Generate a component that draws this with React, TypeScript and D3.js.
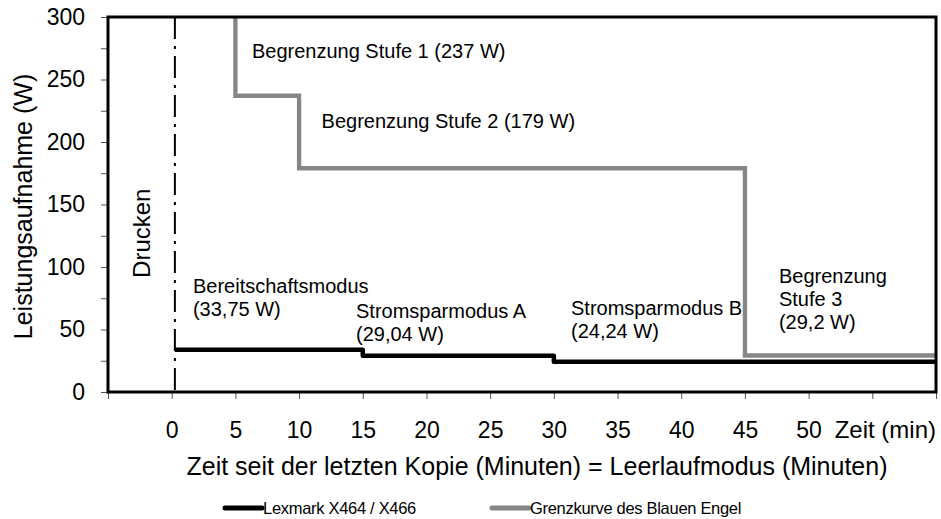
import React, { useEffect, useRef } from 'react';
import * as d3 from 'd3';

// Lexmark X464 / X466 measured consumption (minutes after last copy, watts)
const lexmarkTimes = [0.25, 15, 30, 60];
const lexmarkWatts = [33.75, 29.04, 24.24, 24.24];

// Blauer Engel limit curve
const limitTimes = [5, 10, 45, 60];
const limitWatts = [300, 237, 179, 29.2];

// end of the "Drucken" phase
const printingEnd = 0.25;

const xTicks = [-5, 0, 5, 10, 15, 20, 25, 30, 35, 40, 45, 50, 55, 60];
const xLabelled = [0, 5, 10, 15, 20, 25, 30, 35, 40, 45, 50];
const yTicks = [0, 25, 50, 75, 100, 125, 150, 175, 200, 225, 250, 275, 300];
const yLabelled = [0, 50, 100, 150, 200, 250, 300];

const seriesNames = ['Lexmark X464 / X466', 'Grenzkurve des Blauen Engel'];

const annotationTexts = [
    ['Begrenzung Stufe 1 (237 W)'],
    ['Begrenzung Stufe 2 (179 W)'],
    ['Bereitschaftsmodus', '(33,75 W)'],
    ['Stromsparmodus A', '(29,04 W)'],
    ['Stromsparmodus B', '(24,24 W)'],
    ['Begrenzung', 'Stufe 3', '(29,2 W)'],
];

const FONT = '"Liberation Sans", Arial, sans-serif';

export default function App() {
    const canvas = useRef<SVGSVGElement>(null);

    useEffect(() => {
        const width = 941;
        const height = 519;
        const margin = { top: 17, right: 5, bottom: 127, left: 108 };

        const svg = d3.select(canvas.current);
        svg.selectAll('*').remove();

        const xScale = d3.scaleLinear()
            .domain([-5, 60])
            .range([margin.left, width - margin.right]);

        const yScale = d3.scaleLinear()
            .domain([0, 300])
            .range([height - margin.bottom, margin.top]);

        // Y axis
        const yAxis = svg.append('g')
            .attr('transform', `translate(${margin.left},0)`)
            .call(d3.axisLeft(yScale)
                .tickValues(yTicks)
                .tickSize(7)
                .tickPadding(16)
                .tickFormat((d: any) => yLabelled.includes(d) ? String(d) : ''));
        yAxis.select('.domain').remove();
        yAxis.selectAll('line').attr('stroke', '#555');
        yAxis.selectAll('text')
            .attr('font-family', FONT)
            .attr('font-size', 23)
            .attr('fill', '#000');

        // X axis
        const xAxis = svg.append('g')
            .attr('transform', `translate(0,${height - margin.bottom})`)
            .call(d3.axisBottom(xScale)
                .tickValues(xTicks)
                .tickSize(7)
                .tickPadding(23)
                .tickFormat((d: any) => xLabelled.includes(d) ? String(d) : ''));
        xAxis.select('.domain').remove();
        xAxis.selectAll('line').attr('stroke', '#555');
        xAxis.selectAll('text')
            .attr('font-family', FONT)
            .attr('font-size', 23)
            .attr('fill', '#000');

        svg.append('text')
            .attr('x', xScale(60))
            .attr('y', height - margin.bottom + 46)
            .attr('text-anchor', 'end')
            .attr('font-family', FONT)
            .attr('font-size', 24)
            .text('Zeit (min)');

        // Axis titles
        svg.append('text')
            .attr('x', 537)
            .attr('y', 475)
            .attr('text-anchor', 'middle')
            .attr('font-family', FONT)
            .attr('font-size', 25)
            .text('Zeit seit der letzten Kopie (Minuten) = Leerlaufmodus (Minuten)');

        svg.append('text')
            .attr('transform', `translate(32,${(yScale(0) + yScale(300)) / 2 + 2}) rotate(-90)`)
            .attr('text-anchor', 'middle')
            .attr('font-family', FONT)
            .attr('font-size', 25)
            .text('Leistungsaufnahme (W)');

        // Printing phase marker
        svg.append('line')
            .attr('x1', xScale(printingEnd))
            .attr('x2', xScale(printingEnd))
            .attr('y1', yScale(300))
            .attr('y2', yScale(0))
            .attr('stroke', '#000')
            .attr('stroke-width', 2)
            .attr('stroke-dasharray', '22,7,3,7');

        svg.append('text')
            .attr('transform', `translate(150,${yScale(127)}) rotate(-90)`)
            .attr('text-anchor', 'middle')
            .attr('font-family', FONT)
            .attr('font-size', 24)
            .text('Drucken');

        // Series
        const lexmarkLine = d3.line<number>()
            .x((d, i) => xScale(lexmarkTimes[i]))
            .y(d => yScale(d))
            .curve(d3.curveStepAfter);

        const limitLine = d3.line<number>()
            .x((d, i) => xScale(limitTimes[i]))
            .y(d => yScale(d))
            .curve(d3.curveStepBefore);

        svg.append('path')
            .datum(lexmarkWatts)
            .attr('d', lexmarkLine)
            .attr('fill', 'none')
            .attr('stroke', '#000')
            .attr('stroke-width', 4.5)
            .attr('stroke-linejoin', 'round');

        svg.append('path')
            .datum(limitWatts)
            .attr('d', limitLine)
            .attr('fill', 'none')
            .attr('stroke', '#868686')
            .attr('stroke-width', 4.3);

        // Plot frame
        svg.append('rect')
            .attr('x', margin.left)
            .attr('y', margin.top)
            .attr('width', width - margin.left - margin.right)
            .attr('height', height - margin.top - margin.bottom)
            .attr('fill', 'none')
            .attr('stroke', '#000')
            .attr('stroke-width', 3);

        // Annotations: anchor in minutes / watts
        const anchors = [
            { x: 6.3, y: 267 },
            { x: 11.77, y: 211.5 },
            { x: 1.67, y: 79.5 },
            { x: 14.47, y: 59.5 },
            { x: 31.35, y: 62 },
            { x: 47.67, y: 87.5 },
        ];

        annotationTexts.forEach((lines, i) => {
            const t = svg.append('text')
                .attr('x', xScale(anchors[i].x))
                .attr('y', yScale(anchors[i].y))
                .attr('font-family', FONT)
                .attr('font-size', 20)
                .attr('fill', '#000');
            lines.forEach((line, j) => {
                t.append('tspan')
                    .attr('x', xScale(anchors[i].x))
                    .attr('dy', j === 0 ? 0 : 23)
                    .text(line);
            });
        });

        // Legend
        const legendX = [225, 492];
        const legendColours = ['#000', '#868686'];
        seriesNames.forEach((name, i) => {
            svg.append('line')
                .attr('x1', legendX[i])
                .attr('x2', legendX[i] + 37)
                .attr('y1', 508)
                .attr('y2', 508)
                .attr('stroke', legendColours[i])
                .attr('stroke-width', 5)
                .attr('stroke-linecap', 'round');
            svg.append('text')
                .attr('x', legendX[i] + 38)
                .attr('y', 514)
                .attr('font-family', FONT)
                .attr('font-size', 16.5)
                .attr('letter-spacing', -0.3)
                .text(name);
        });
    }, []);

    return (
        <div style={{ position: 'absolute', left: 0, top: 0 }}>
            <svg ref={canvas} width={941} height={519} style={{ display: 'block', background: '#fff' }} />
        </div>
    );
}
